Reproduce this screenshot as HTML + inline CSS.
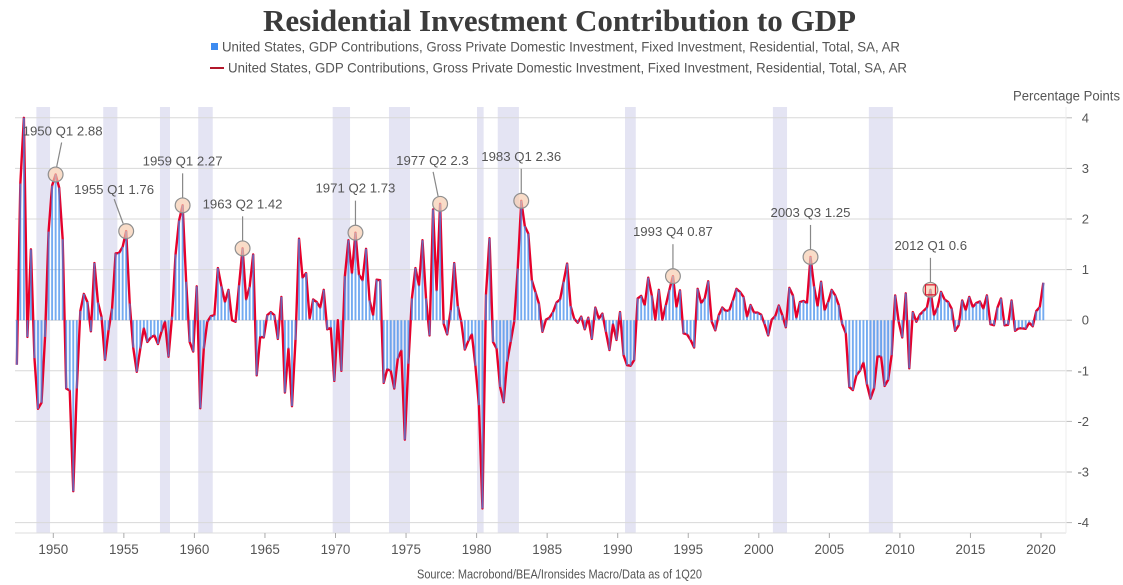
<!DOCTYPE html>
<html lang="en">
<head>
<meta charset="utf-8">
<title>Residential Investment Contribution to GDP</title>
<style>
html,body{margin:0;padding:0;background:#fff;width:1123px;height:585px;overflow:hidden}
svg{display:block;font-family:"Liberation Sans",sans-serif}
</style>
</head>
<body>
<svg id="chart" xmlns="http://www.w3.org/2000/svg" width="1123" height="585" viewBox="0 0 1123 585">
  <rect x="0" y="0" width="1123" height="585" fill="#fff"/>
  <text x="559.5" y="31" text-anchor="middle" textLength="593" lengthAdjust="spacingAndGlyphs" font-family="'Liberation Serif',serif" font-weight="700" font-size="31" fill="#3b3b3b">Residential Investment Contribution to GDP</text>
  <rect x="211" y="43" width="7" height="7" fill="#3d8bf0"/>
  <text x="222" y="51.5" textLength="678" lengthAdjust="spacingAndGlyphs" font-size="14" fill="#555">United States, GDP Contributions, Gross Private Domestic Investment, Fixed Investment, Residential, Total, SA, AR</text>
  <rect x="210" y="67" width="14" height="2" fill="#b2182b"/>
  <text x="228" y="72.5" textLength="679" lengthAdjust="spacingAndGlyphs" font-size="14" fill="#555">United States, GDP Contributions, Gross Private Domestic Investment, Fixed Investment, Residential, Total, SA, AR</text>
  <text x="1013" y="100.5" textLength="107" lengthAdjust="spacingAndGlyphs" font-size="13.5" fill="#555">Percentage Points</text>
  <text x="417" y="578.5" textLength="285" lengthAdjust="spacingAndGlyphs" font-size="12.5" fill="#555">Source: Macrobond/BEA/Ironsides Macro/Data as of 1Q20</text>
  <g id="recessions"></g>
  <g id="grid"></g>
  <g id="axes"></g>
  <g id="series"></g>
  <g id="callouts"></g>
</svg>
<script>
const firstYear = 1947;
const firstQuarter = 2;
const contributions = [
-0.88,2.7,4.0,-0.33,1.4,-0.75,-1.75,-1.63,-0.33,1.75,2.66,2.88,2.62,1.6,-1.35,-1.39,-3.38,-1.35,0.18,0.52,
0.36,-0.22,1.13,0.35,0.07,-0.78,-0.2,0.23,1.32,1.33,1.45,1.76,0.33,-0.54,-1.02,-0.56,-0.16,-0.43,-0.34,-0.3,
-0.47,-0.23,-0.03,-0.72,0.07,1.3,1.97,2.27,0.76,-0.43,-0.62,0.67,-1.74,-0.56,-0.03,0.08,0.1,1.03,0.67,0.36,
0.6,0.0,-0.03,0.69,1.42,0.41,0.66,1.3,-1.09,-0.33,-0.34,0.1,0.16,0.1,-0.37,0.46,-1.43,-0.56,-1.7,-0.39,
1.61,0.84,0.93,0.03,0.41,0.36,0.25,0.6,-0.18,-0.15,-1.2,0.0,-1.0,0.87,1.58,0.93,1.73,0.9,0.79,1.41,
0.39,0.1,0.8,0.79,-1.24,-0.97,-1.0,-1.35,-0.76,-0.6,-2.36,-0.86,0.43,1.03,0.69,1.58,0.43,-0.3,2.19,0.59,
2.3,-0.07,-0.28,0.2,1.13,0.28,-0.03,-0.58,-0.41,-0.28,-0.9,-1.68,-3.72,0.51,1.62,-0.43,-0.56,-1.32,-1.62,-0.82,
-0.43,-0.03,1.02,2.36,1.86,1.71,0.79,0.56,0.33,-0.23,0.01,0.05,0.16,0.35,0.41,0.76,1.12,0.28,0.03,-0.05,
0.07,-0.18,0.05,-0.37,0.25,0.03,0.13,-0.23,-0.59,-0.08,-0.39,0.16,-0.69,-0.89,-0.9,-0.79,0.43,0.48,0.3,0.84,
0.49,0.01,0.6,0.01,0.3,0.6,0.87,0.26,0.59,-0.26,-0.28,-0.39,-0.54,0.62,0.34,0.43,0.77,-0.03,-0.2,0.1,
0.25,0.18,0.2,0.39,0.62,0.56,0.46,0.07,0.3,0.15,0.15,0.11,-0.08,-0.3,0.01,0.08,0.29,0.1,-0.14,0.64,
0.49,0.05,0.36,0.38,0.34,1.25,0.67,0.28,0.76,0.2,0.36,0.6,0.49,0.3,-0.08,-0.26,-1.32,-1.38,-1.09,-1.0,
-0.84,-1.27,-1.55,-1.35,-0.71,-0.72,-1.3,-1.18,-0.69,0.49,-0.03,-0.34,0.53,-0.95,0.16,-0.03,0.11,0.18,0.25,0.6,
0.1,0.25,0.56,0.41,0.36,0.23,-0.21,-0.1,0.39,0.2,0.46,0.26,0.34,0.37,0.23,0.49,-0.08,-0.1,0.25,0.43,
-0.1,-0.09,0.39,-0.21,-0.16,-0.16,-0.17,-0.05,-0.12,0.18,0.26,0.74
];
const yTicks = [4,3,2,1,0,-1,-2,-3,-4];
const xTickYears = [1950,1955,1960,1965,1970,1975,1980,1985,1990,1995,2000,2005,2010,2015,2020];
const recessionStarts = [1948.8,1953.54,1957.56,1960.27,1969.8,1973.79,1980.03,1981.5,1990.52,2001.0,2007.8];
const recessionEnds = [1949.77,1954.54,1958.27,1961.3,1971.03,1975.28,1980.5,1983.0,1991.28,2002.0,2009.5];
const calloutYears = [1950,1955,1959,1963,1971,1977,1983,1993,2003,2012];
const calloutQuarters = [1,1,1,2,2,2,1,4,3,1];
const calloutLabels = ["1950 Q1 2.88","1955 Q1 1.76","1959 Q1 2.27","1963 Q2 1.42","1971 Q2 1.73","1977 Q2 2.3","1983 Q1 2.36","1993 Q4 0.87","2003 Q3 1.25","2012 Q1 0.6"];

/* callout layout: label left offset, label baseline offset and leader-line offsets, relative to the marker */
const labelOffsetX = [-33,-52,-40,-40,-40,-44,-40,-40,-40,-36];
const labelOffsetY = [-39,-37,-40,-40,-40,-39,-40,-40,-40,-40];
const leaderOffsetX = [6,-12,0,0,0,-7,0,0,0,0];
const leaderEndX = [1,-3,0,0,0,-2,0,0,0,0];

const NS = "http://www.w3.org/2000/svg";
const PLOT_LEFT = 15, PLOT_RIGHT = 1066, PLOT_TOP = 107, PLOT_BOTTOM = 533;
function xYear(t){ return 53.3 + 14.11 * (t - 1950); }
function xIndex(i){ return xYear(firstYear + (firstQuarter - 1) / 4 + i / 4 + 0.165); }
function yVal(v){ return 320.2 - 50.6 * v; }
function quarterIndex(year, q){ return (year - firstYear) * 4 + (q - firstQuarter); }
function make(tag, attrs, parent){
  const el = document.createElementNS(NS, tag);
  for (const k in attrs) el.setAttribute(k, attrs[k]);
  parent.appendChild(el);
  return el;
}

const gRec = document.getElementById("recessions");
recessionStarts.forEach(function(s, i){
  const band = make("rect", {x: xYear(s), y: PLOT_TOP, width: xYear(recessionEnds[i]) - xYear(s), height: PLOT_BOTTOM - PLOT_TOP, fill: "#e4e4f3"}, gRec);
  
  
});

const gGrid = document.getElementById("grid");
const gAxes = document.getElementById("axes");
yTicks.forEach(function(v){
  const line = make("line", {x1: PLOT_LEFT, x2: PLOT_RIGHT, y1: yVal(v), y2: yVal(v), stroke: "#d8d8d8", "stroke-width": 1}, gGrid);
  
  
  const tick = make("line", {x1: PLOT_RIGHT, x2: PLOT_RIGHT + 6, y1: yVal(v), y2: yVal(v), stroke: "#bbb", "stroke-width": 1}, gAxes);
  
  
  const label = make("text", {x: 1089, y: yVal(v) + 4.5, "text-anchor": "end", "font-size": 13, fill: "#555"}, gAxes);
  
  
  label.textContent = String(v);
});
const xAxisLine = make("line", {x1: PLOT_LEFT, x2: PLOT_RIGHT, y1: PLOT_BOTTOM, y2: PLOT_BOTTOM, stroke: "#ddd", "stroke-width": 1}, gAxes);


const yAxisLine = make("line", {x1: PLOT_RIGHT, x2: PLOT_RIGHT, y1: PLOT_TOP, y2: PLOT_BOTTOM, stroke: "#eee", "stroke-width": 1}, gAxes);


xTickYears.forEach(function(y){
  const tick = make("line", {x1: xYear(y), x2: xYear(y), y1: PLOT_BOTTOM, y2: PLOT_BOTTOM + 5, stroke: "#aaa", "stroke-width": 1}, gAxes);
  
  
  const label = make("text", {x: xYear(y), y: 554, "text-anchor": "middle", "font-size": 13.4, fill: "#555"}, gAxes);
  
  
  label.textContent = String(y);
});

const gSeries = document.getElementById("series");
const pts = contributions.map(function(v, i){ return xIndex(i).toFixed(2) + "," + yVal(v).toFixed(2); }).join(" ");
const redLine = make("polyline", {points: pts, fill: "none", stroke: "#e6002a", "stroke-width": 2.4, "stroke-linejoin": "round"}, gSeries);


contributions.forEach(function(v, i){
  const y0 = yVal(0), y1 = yVal(v);
  const bar = make("rect", {x: xIndex(i) - 0.95, y: Math.min(y0, y1), width: 1.9, height: Math.abs(y1 - y0), fill: "#3f8bec", "fill-opacity": 0.72}, gSeries);
  
  
});

const gCall = document.getElementById("callouts");
calloutLabels.forEach(function(text, n){
  const idx = quarterIndex(calloutYears[n], calloutQuarters[n]);
  const cx = xIndex(idx), cy = yVal(contributions[idx]);
  const leader = make("line", {x1: cx + leaderOffsetX[n], y1: cy - 32, x2: cx + leaderEndX[n], y2: cy - 7.5, stroke: "#888", "stroke-width": 1.2}, gCall);
  
  
  const marker = make("circle", {cx: cx, cy: cy, r: 7.4, fill: "#f6c9ab", "fill-opacity": 0.65, stroke: "#8f8f8f", "stroke-width": 1.2}, gCall);
  
  
  const label = make("text", {x: cx + labelOffsetX[n], y: cy + labelOffsetY[n], "font-size": 13.2, fill: "#555"}, gCall);
  
  
  label.textContent = text;
  if (n === calloutLabels.length - 1) {
    const box = make("rect", {x: cx - 5, y: cy - 5, width: 10, height: 10, fill: "none", stroke: "#d8172f", "stroke-width": 1.2}, gCall);
    
    
  }
});
</script>
</body>
</html>
